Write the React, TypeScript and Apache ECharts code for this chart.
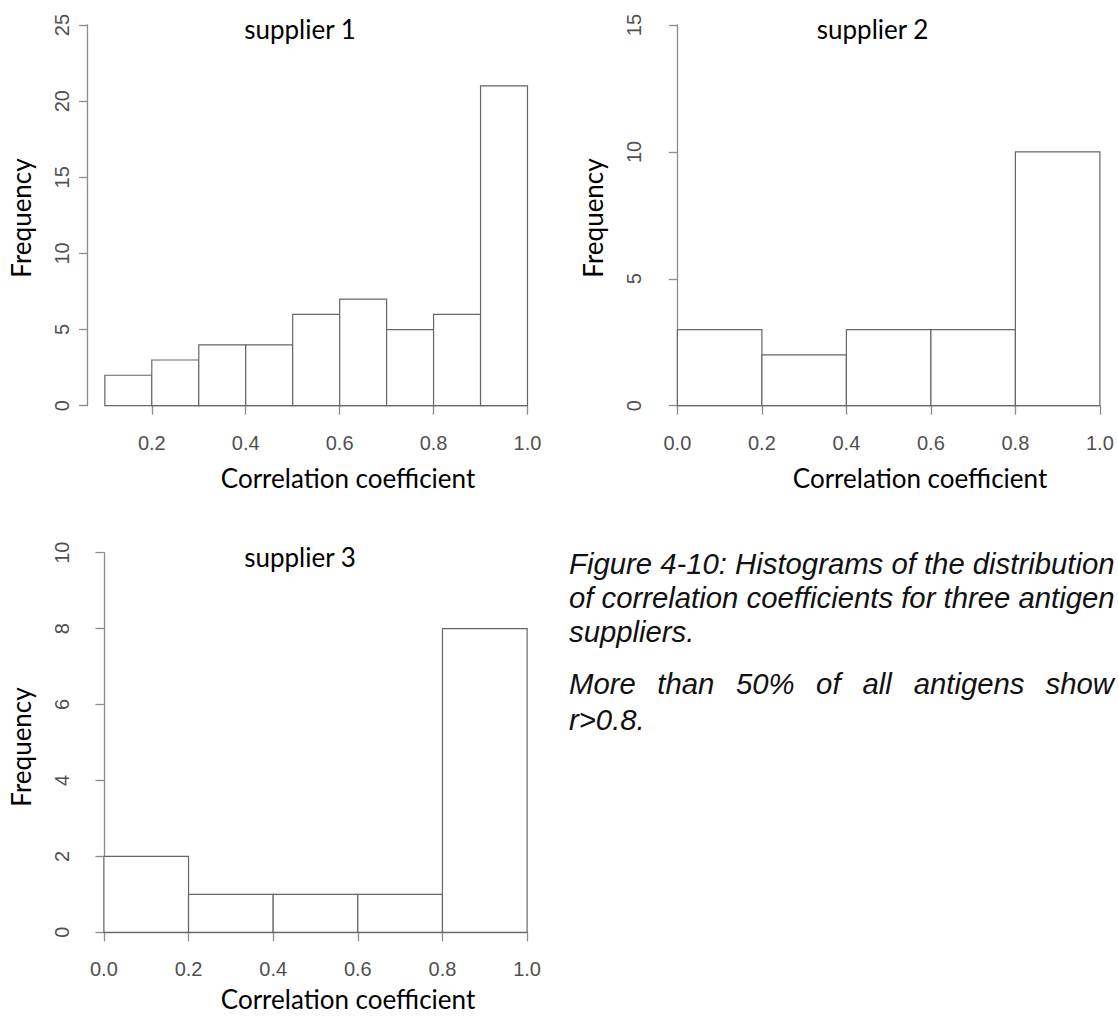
import React, { useEffect, useRef } from "react";
import * as echarts from "echarts";

// ---- data ----
const bins1Start = [0.1, 0.2, 0.3, 0.4, 0.5, 0.6, 0.7, 0.8, 0.9];
const bins1End = [0.2, 0.3, 0.4, 0.5, 0.6, 0.7, 0.8, 0.9, 1.0];
const counts1 = [2, 3, 4, 4, 6, 7, 5, 6, 21];

const bins23Start = [0.0, 0.2, 0.4, 0.6, 0.8];
const bins23End = [0.2, 0.4, 0.6, 0.8, 1.0];
const counts2 = [3, 2, 3, 3, 10];
const counts3 = [2, 1, 1, 1, 8];

const titles = ["supplier 1", "supplier 2", "supplier 3"];
const xName = "Correlation coefficient";
const yName = "Frequency";
const captionLines = [
  "Figure 4-10: Histograms of the distribution",
  "of correlation coefficients for three antigen",
  "suppliers.",
];
const captionJustified = ["More", "than", "50%", "of", "all", "antigens", "show"];
const captionLast = "r>0.8.";

// ---- layout (pixels) ----
const panels = [
  { left: 151.8, top: 25, width: 375.7, height: 380.7, yAxisX: 87.5, xMin: 0.2, yMax: 25, yInt: 5 },
  { left: 677.4, top: 25, width: 422.5, height: 380.7, yAxisX: 659.6, xMin: 0, yMax: 15, yInt: 5 },
  { left: 103.9, top: 552.7, width: 423.2, height: 379.6, yAxisX: 87.5, xMin: 0, yMax: 10, yInt: 2 },
];

const AXIS_COLOR = "#8c8c8c";
const LABEL_COLOR = "#505050";
const BAR_STROKE = "#666666";
const LABEL_FONT = "Liberation Sans, Arial, sans-serif";
const TITLE_FONT = "Lato, Carlito, Calibri, sans-serif";

function buildData(starts: number[], ends: number[], counts: number[]) {
  return starts.map((s, i) => [s, ends[i], counts[i]]);
}

export default function App() {
  const ref = useRef<HTMLDivElement>(null);
  useEffect(() => {
    document.body.style.margin = "0";
    if (!ref.current) return;
    const chart = echarts.init(ref.current, null, { renderer: "svg" });

    const datasets = [
      buildData(bins1Start, bins1End, counts1),
      buildData(bins23Start, bins23End, counts2),
      buildData(bins23Start, bins23End, counts3),
    ];

    const grid = panels.map((p) => ({
      left: p.left,
      top: p.top,
      width: p.width,
      height: p.height,
      containLabel: false,
    }));

    const xAxis = panels.map((p, i) => ({
      type: "value",
      gridIndex: i,
      min: p.xMin,
      max: 1.0,
      interval: 0.2,
      offset: 15,
      position: "bottom",
      axisLine: { show: true, lineStyle: { color: AXIS_COLOR, width: 1.3 } },
      axisTick: { show: true, length: 9, lineStyle: { color: AXIS_COLOR, width: 1.3 } },
      axisLabel: {
        show: true,
        margin: 12,
        fontSize: 20,
        color: LABEL_COLOR,
        fontFamily: LABEL_FONT,
        formatter: (v: number) => v.toFixed(1),
        showMinLabel: true,
        showMaxLabel: true,
      },
      splitLine: { show: false },
    }));

    const yAxis = panels.map((p, i) => ({
      type: "value",
      gridIndex: i,
      min: 0,
      max: p.yMax,
      interval: p.yInt,
      offset: p.left - p.yAxisX,
      position: "left",
      axisLine: { show: true, lineStyle: { color: AXIS_COLOR, width: 1.3 } },
      axisTick: { show: true, length: 8.5, lineStyle: { color: AXIS_COLOR, width: 1.3 } },
      axisLabel: {
        show: true,
        rotate: 90,
        margin: 16,
        fontSize: 20,
        color: LABEL_COLOR,
        fontFamily: LABEL_FONT,
        showMinLabel: true,
        showMaxLabel: true,
      },
      splitLine: { show: false },
    }));

    const series = datasets.map((d, i) => ({
      type: "custom",
      xAxisIndex: i,
      yAxisIndex: i,
      clip: false,
      data: d,
      encode: { x: [0, 1], y: 2 },
      renderItem: (_params: any, api: any) => {
        const p0 = api.coord([api.value(0), api.value(2)]);
        const p1 = api.coord([api.value(1), 0]);
        return {
          type: "rect",
          shape: { x: p0[0], y: p0[1], width: p1[0] - p0[0], height: p1[1] - p0[1] },
          style: { fill: "#ffffff", stroke: BAR_STROKE, lineWidth: 1.2 },
        };
      },
    }));

    const titleCenters = [
      { x: 300, y: 29 },
      { x: 872.6, y: 29 },
      { x: 300, y: 557 },
    ];
    const xNameCenters = [
      { x: 348, y: 478 },
      { x: 920, y: 478 },
      { x: 348, y: 999 },
    ];
    const yNameCenters = [
      { x: 20.5, y: 218 },
      { x: 593, y: 218 },
      { x: 20.5, y: 747 },
    ];

    const textStyleBase = { fontFamily: TITLE_FONT, fontSize: 26, fill: "#000" };
    const graphic: any[] = [];
    titles.forEach((t, i) => {
      graphic.push({
        type: "text",
        x: titleCenters[i].x,
        y: titleCenters[i].y,
        style: { ...textStyleBase, text: t, textAlign: "center", textVerticalAlign: "middle" },
      });
      graphic.push({
        type: "text",
        x: xNameCenters[i].x,
        y: xNameCenters[i].y,
        style: { ...textStyleBase, text: xName, textAlign: "center", textVerticalAlign: "middle" },
      });
      graphic.push({
        type: "text",
        x: yNameCenters[i].x,
        y: yNameCenters[i].y,
        rotation: Math.PI / 2,
        style: { ...textStyleBase, text: yName, textAlign: "center", textVerticalAlign: "middle" },
      });
    });

    const capStyle = {
      fontFamily: "Liberation Sans, Arial, sans-serif",
      fontStyle: "italic",
      fontSize: 29.3,
      fill: "#111",
    };
    const capX = 569;
    const capBottoms = [578, 612, 646];
    captionLines.forEach((line, i) => {
      graphic.push({
        type: "text",
        x: capX,
        y: capBottoms[i],
        style: { ...capStyle, text: line, textAlign: "left", textVerticalAlign: "bottom" },
      });
    });
    const wordX = [569, 657.3, 735.9, 816.1, 862.5, 913.7, 1045.5];
    captionJustified.forEach((w, i) => {
      graphic.push({
        type: "text",
        x: wordX[i],
        y: 698,
        style: { ...capStyle, text: w, textAlign: "left", textVerticalAlign: "bottom" },
      });
    });
    graphic.push({
      type: "text",
      x: capX,
      y: 734,
      style: { ...capStyle, text: captionLast, textAlign: "left", textVerticalAlign: "bottom" },
    });

    chart.setOption({
      animation: false,
      backgroundColor: "#ffffff",
      grid,
      xAxis,
      yAxis,
      series,
      graphic,
    });

    return () => chart.dispose();
  }, []);

  return <div ref={ref} style={{ width: 1118, height: 1016 }} />;
}
